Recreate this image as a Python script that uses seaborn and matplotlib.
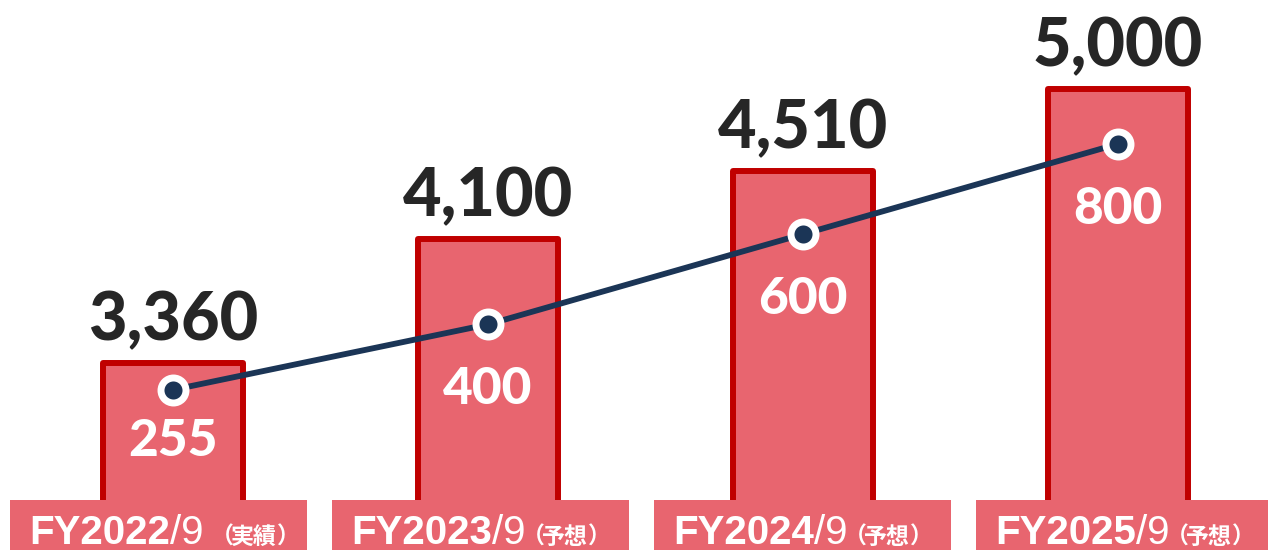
import numpy as np
import pandas as pd
import matplotlib
matplotlib.use("Agg")
import matplotlib.pyplot as plt
import seaborn as sns
from matplotlib.patches import Rectangle
from matplotlib.transforms import IdentityTransform

# ---------------- data ----------------
years = ["FY2022", "FY2023", "FY2024", "FY2025"]
month_suffix = ["/9 ", "/9", "/9", "/9"]
status = ["実績", "予想", "予想", "予想"]
bar_values = [3360, 4100, 4510, 5000]
line_values = [255, 400, 600, 800]

# ---------------- style ----------------
sns.set_theme(style="white")
plt.rcParams["font.family"] = ["Lato", "Noto Sans CJK JP", "DejaVu Sans"]

BAR_FILL = "#E8656F"
BAR_EDGE = "#C00000"
NAVY = "#1B3556"
DARK = "#262626"
NUM_FONT = ["Lato", "DejaVu Sans"]
LAT_FONT = ["Liberation Sans", "DejaVu Sans"]
JP_FONT = ["Noto Sans CJK JP", "DejaVu Sans"]

W, H, DPI = 1268, 550, 100
fig = plt.figure(figsize=(W / DPI, H / DPI), dpi=DPI)
ax = fig.add_axes([0, 0, 1, 1])

df = pd.DataFrame({"year": years, "value": bar_values})
sns.barplot(data=df, x="year", y="value", ax=ax, width=0.444,
            color=BAR_FILL, saturation=1, edgecolor=BAR_EDGE, linewidth=4.3)
for p in ax.patches:
    p.set_joinstyle("round")

ax.set_xlim(-0.549, 3.476)
ax.set_ylim(2241, 5533)
ax.set_axis_off()

# big value labels above bars
for i, v in enumerate(bar_values):
    ax.annotate(f"{v:,}", (i, v), xytext=(0, 8), textcoords="offset points",
                ha="center", va="bottom", fontsize=48, fontweight="black",
                color=DARK, family=NUM_FONT)

# line on twin axis
ax2 = ax.twinx()
sns.lineplot(x=np.arange(len(line_values)), y=line_values, ax=ax2,
             color=NAVY, linewidth=4.2, marker="o", markersize=18,
             markerfacecolor=NAVY, markeredgecolor="white", markeredgewidth=5)
ax2.set_xlim(-0.549, 3.476)
ax2.set_ylim(-100, 1119)
ax2.set_axis_off()

for i, v in enumerate(line_values):
    dy = -37 if i == 0 else -47
    ax2.annotate(f"{v}", (i, v), xytext=(0, dy), textcoords="offset points",
                 ha="center", va="center", fontsize=37, fontweight="black",
                 color="white", family=NUM_FONT)

# category label boxes along the bottom
box_w, box_h, box_left0, box_step = 297, 50, 10, 322
jp_size = 16.5
em = jp_size * DPI / 72
fig.canvas.draw()
renderer = fig.canvas.get_renderer()


def put(x, txt, size, weight, fam):
    t = fig.text(x, 6, txt, transform=IdentityTransform(), ha="left",
                 va="baseline", fontsize=size, fontweight=weight,
                 family=fam, color="white", zorder=11)
    return t.get_window_extent(renderer).x1


for i in range(len(years)):
    left = box_left0 + i * box_step
    rect = Rectangle((left, 0), box_w, box_h, transform=IdentityTransform(),
                     facecolor=BAR_FILL, edgecolor="none", zorder=10)
    fig.patches.append(rect)
    x = put(left + 19, years[i], 29, "bold", LAT_FONT)
    x = put(x, month_suffix[i], 29, "normal", LAT_FONT)
    # full-width brackets drawn with tighter (proportional) spacing
    x = put(x + 8 - 0.5 * em, "（", jp_size, "bold", JP_FONT)
    x = put(x - 3, status[i], jp_size, "bold", JP_FONT)
    put(x, "）", jp_size, "bold", JP_FONT)

fig.savefig("out.png", dpi=DPI)
